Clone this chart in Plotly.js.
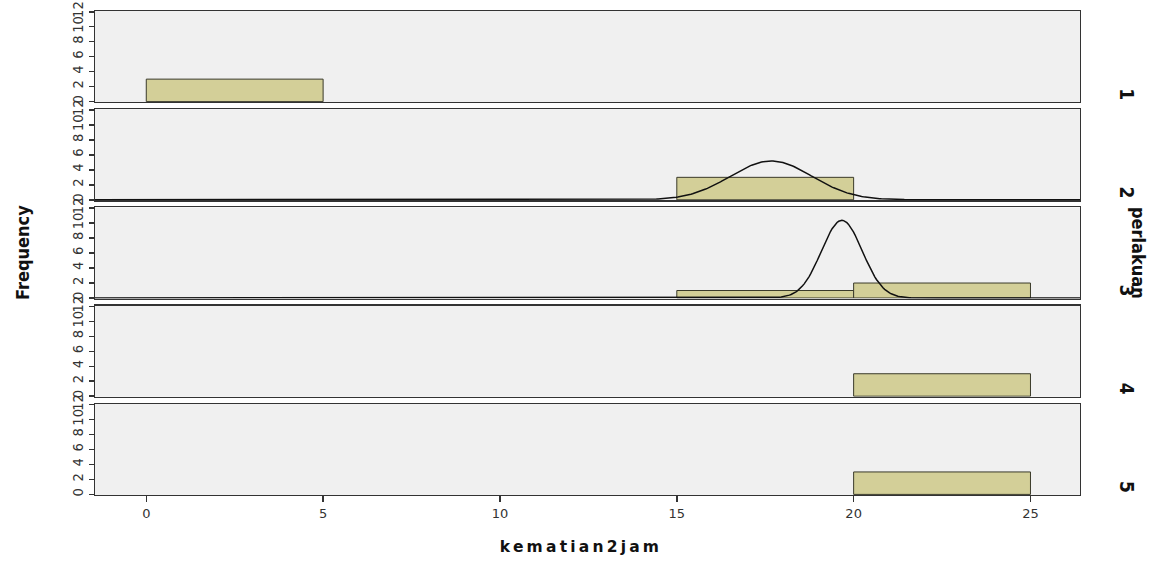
<!DOCTYPE html>
<html>
<head>
<meta charset="utf-8">
<script src="https://cdn.plot.ly/plotly-3.0.1.min.js"></script>
<style>
html,body{margin:0;padding:0;background:#fff;}
#chart{width:1171px;height:561px;}
.xtitle-spaced text{letter-spacing:3.2px;}
</style>
</head>
<body>
<div id="chart"></div>
<script>
// ---- data ----
const groups = ["1", "2", "3", "4", "5"];
const binStarts = [0, 5, 10, 15, 20];
const binWidth = 5;
const counts1 = [3, 0, 0, 0, 0];
const counts2 = [0, 0, 0, 3, 0];
const counts3 = [0, 0, 0, 1, 2];
const counts4 = [0, 0, 0, 0, 3];
const counts5 = [0, 0, 0, 0, 3];
// normal-curve fit parameters per group (null = no curve drawn)
const fitMean = [null, 17.667, 19.667, null, null];
const fitSD = [null, 1.155, 0.577, null, null];
const groupN = [3, 3, 3, 3, 3];
const xTicks = [0, 5, 10, 15, 20, 25];
const yTicks = [0, 2, 4, 6, 8, 10, 12];
const xTitle = "kematian2jam";
const yTitle = "Frequency";
const panelTitle = "perlakuan";

const allCounts = [counts1, counts2, counts3, counts4, counts5];
const xRange = [-1.45, 26.4];
const narrow = "DejaVu Sans Condensed, sans-serif";

const plotH = 484;
const gap = 7 / plotH;
const h = (1 - 4 * gap) / 5;

const traces = [];
const layout = {
  width: 1171, height: 561,
  margin: {l: 95, r: 91, t: 11, b: 66},
  paper_bgcolor: "#ffffff",
  plot_bgcolor: "#f0f0f0",
  showlegend: false,
  bargap: 0,
  font: {family: narrow, color: "#222"},
  annotations: []
};

for (let i = 0; i < 5; i++) {
  const k = i === 0 ? "" : String(i + 1);
  const xa = "x" + k, ya = "y" + k;
  const xs = [], ys = [];
  allCounts[i].forEach((c, j) => { if (c > 0) { xs.push(binStarts[j] + binWidth / 2); ys.push(c); } });
  traces.push({
    type: "bar", x: xs, y: ys, width: binWidth, xaxis: xa, yaxis: ya,
    marker: {color: "#d3cf98", line: {color: "#3a3a2a", width: 1}},
    hoverinfo: "x+y"
  });
  if (fitMean[i] !== null) {
    const cx = [], cy = [];
    const m = fitMean[i], s = fitSD[i], n = groupN[i];
    for (let t = 0; t <= 600; t++) {
      const xv = xRange[0] + (xRange[1] - xRange[0]) * t / 600;
      cx.push(xv);
      cy.push(n * binWidth * Math.exp(-0.5 * Math.pow((xv - m) / s, 2)) / (s * Math.sqrt(2 * Math.PI)));
    }
    traces.push({type: "scatter", mode: "lines", x: cx, y: cy, xaxis: xa, yaxis: ya,
      line: {color: "#111", width: 1.5}, hoverinfo: "skip"});
  }
  const top = 1 - i * (h + gap);
  const bottom = Math.max(0, top - h);
  const isBottom = i === 4;
  layout["xaxis" + k] = {
    domain: [0, 1], anchor: ya, range: xRange,
    matches: i === 0 ? undefined : "x",
    tickvals: xTicks, ticktext: xTicks.map(String),
    showticklabels: isBottom, ticks: isBottom ? "outside" : "", ticklen: 6, tickwidth: 1.5, tickcolor: "#333",
    tickfont: {size: 13, color: "#333", family: "DejaVu Sans, sans-serif"},
    showgrid: false, zeroline: false,
    showline: true, mirror: true, linecolor: "#333", linewidth: 1.2
  };
  layout["yaxis" + k] = {
    domain: [bottom, top], anchor: xa, range: [-0.08, 12.1],
    tickvals: yTicks, ticktext: yTicks.map(String), tickangle: -90,
    ticks: "outside", ticklen: 5, tickwidth: 1.5, tickcolor: "#333",
    tickfont: {size: 14.5, color: "#333", family: narrow},
    showgrid: false, zeroline: false,
    showline: true, mirror: true, linecolor: "#333", linewidth: 1.2
  };
  layout.annotations.push({
    text: "<b>" + groups[i] + "</b>", xref: "paper", yref: ya + " domain",
    x: 1, y: 0, xanchor: "center", yanchor: "bottom", xshift: 47, yshift: 0,
    textangle: 90, showarrow: false,
    font: {size: 19, color: "#111", family: narrow}
  });
}

layout.annotations.push({
  text: "<b>" + panelTitle + "</b>", xref: "paper", yref: "paper",
  x: 1, y: 0.5, xanchor: "center", yanchor: "middle", xshift: 59,
  textangle: 90, showarrow: false,
  font: {size: 18, color: "#111", family: narrow}
});
layout.annotations.push({
  text: "<b>" + yTitle + "</b>", xref: "paper", yref: "paper",
  x: 0, y: 0.5, xanchor: "center", yanchor: "middle", xshift: -73,
  textangle: -90, showarrow: false,
  font: {size: 18, color: "#111", family: narrow}
});
layout.annotations.push({
  text: "<b>" + xTitle + "</b>", xref: "paper", yref: "paper",
  x: 0.5, y: 0, xanchor: "center", yanchor: "middle", xshift: -7, yshift: -52,
  showarrow: false,
  font: {size: 15.5, color: "#111", family: "DejaVu Sans, sans-serif"}
});

Plotly.newPlot("chart", traces, layout, {displayModeBar: false, staticPlot: true}).then(gd => {
  const anns = gd.querySelectorAll(".annotation");
  const last = anns[anns.length - 1];
  if (last) last.classList.add("xtitle-spaced");
});
</script>
</body>
</html>
